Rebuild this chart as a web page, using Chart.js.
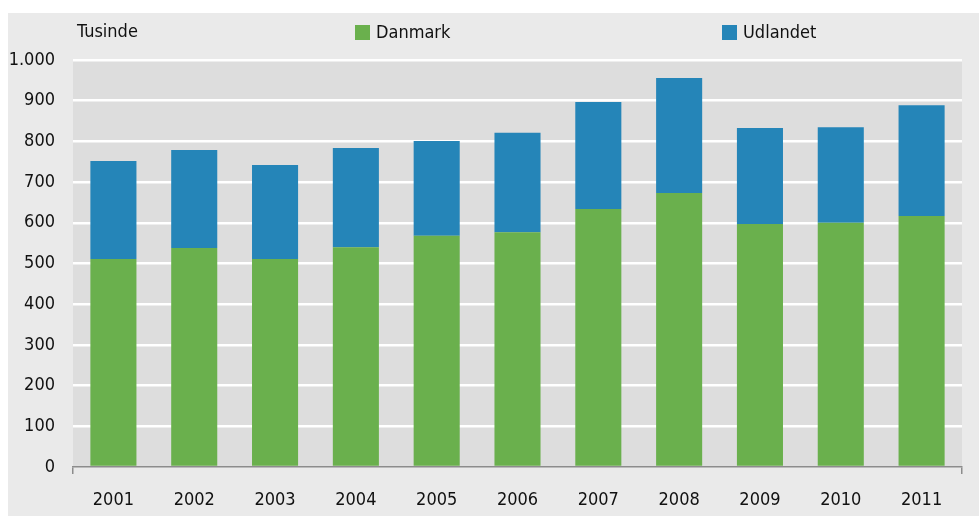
<!DOCTYPE html>
<html>
<head>
<meta charset="utf-8">
<script src="https://cdn.jsdelivr.net/npm/chart.js@4.4.0/dist/chart.umd.min.js"></script>
<style>
    html, body { margin: 0; padding: 0; background: #ffffff; }
    #wrap { width: 979px; height: 516px; }
</style>
</head>
<body>
<div id="wrap"><canvas id="growthChart" width="979" height="516"></canvas></div>
<script>
const years = ['2001', '2002', '2003', '2004', '2005', '2006', '2007', '2008', '2009', '2010', '2011'];
const danmark = [511, 538, 511, 540, 568, 577, 634, 673, 597, 600, 617];
const udlandet = [241, 241, 231, 244, 233, 244, 263, 283, 236, 235, 272];
const yTicks = [0, 100, 200, 300, 400, 500, 600, 700, 800, 900, 1000];
const unitLabel = 'Tusinde';

const fontFamily = "'Liberation Sans Narrow', 'DejaVu Sans Condensed', 'Arial Narrow', sans-serif";
const fontSize = 18;
const green = '#6ab04d';
const blue = '#2585b8';

// thousands separator as in the original (1.000)
function fmt(v) {
    return String(v).replace(/\B(?=(\d{3})+(?!\d))/g, '.');
}

const backgroundPlugin = {
    id: 'backgrounds',
    beforeDraw(chart) {
        const ctx = chart.ctx;
        const a = chart.chartArea;
        ctx.save();
        ctx.fillStyle = '#eaeaea';
        ctx.fillRect(8, 13, 971, 503);
        ctx.fillStyle = '#dddddd';
        ctx.fillRect(a.left, a.top, a.right - a.left, a.bottom - a.top);
        ctx.restore();
    },
    afterDraw(chart) {
        const ctx = chart.ctx;
        ctx.save();
        ctx.font = fontSize + 'px ' + fontFamily;
        ctx.fillStyle = '#111111';
        ctx.textBaseline = 'middle';
        ctx.textAlign = 'left';
        ctx.fillText(unitLabel, 77, 32);

        // legend
        const legendX = [355, 722];
        chart.data.datasets.forEach((ds, i) => {
            ctx.fillStyle = ds.backgroundColor;
            ctx.fillRect(legendX[i], 25, 15, 15);
            ctx.fillStyle = '#111111';
            ctx.fillText(ds.label, legendX[i] + 21, 33);
        });
        ctx.restore();
    }
};

const ctx = document.getElementById('growthChart').getContext('2d');
const chart = new Chart(ctx, {
    type: 'bar',
    data: {
        labels: years,
        datasets: [
            {
                label: 'Danmark',
                data: danmark,
                backgroundColor: green,
                categoryPercentage: 1,
                barPercentage: 0.57
            },
            {
                label: 'Udlandet',
                data: udlandet,
                backgroundColor: blue,
                categoryPercentage: 1,
                barPercentage: 0.57
            }
        ]
    },
    options: {
        responsive: false,
        animation: false,
        layout: {
            padding: { top: 60, right: 17, bottom: 0, left: 0 }
        },
        plugins: {
            legend: { display: false },
            title: { display: false },
            tooltip: { enabled: false }
        },
        scales: {
            x: {
                stacked: true,
                afterFit: function (scale) { scale.height = 49; },
                border: { display: true, color: '#8c8c8c', width: 1.5 },
                grid: {
                    offset: true,
                    drawOnChartArea: false,
                    drawTicks: true,
                    tickLength: 7,
                    lineWidth: 1.5,
                    color: function (c) {
                        if (c.type === 'scale') return '#8c8c8c';
                        return c.index === 0 ? '#8c8c8c' : 'rgba(0,0,0,0)';
                    }
                },
                ticks: {
                    color: '#111111',
                    padding: 16,
                    font: { family: fontFamily, size: fontSize }
                }
            },
            y: {
                stacked: true,
                min: 0,
                max: 1000,
                afterFit: function (scale) { scale.width = 73; },
                afterBuildTicks: function (scale) {
                    scale.ticks = yTicks.map(v => ({ value: v }));
                },
                border: { display: false },
                grid: {
                    drawTicks: false,
                    lineWidth: 2.5,
                    color: function (c) {
                        return c.tick && c.tick.value === 0 ? 'rgba(0,0,0,0)' : '#ffffff';
                    }
                },
                ticks: {
                    color: '#111111',
                    padding: 18,
                    font: { family: fontFamily, size: fontSize },
                    callback: function (v) { return fmt(v); }
                }
            }
        }
    },
    plugins: [backgroundPlugin]
});
</script>
</body>
</html>
